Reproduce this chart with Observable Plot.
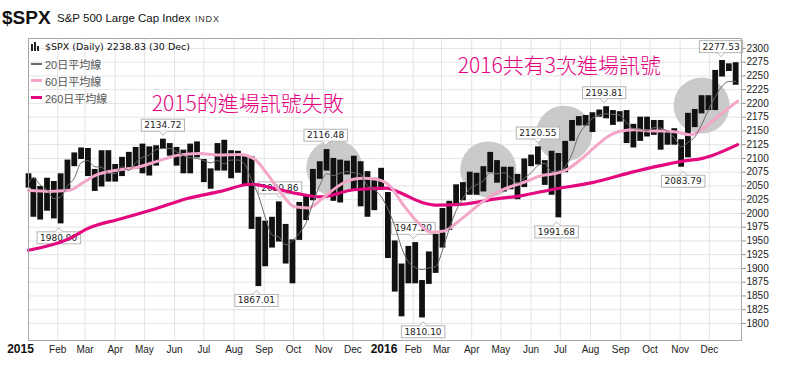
<!DOCTYPE html>
<html>
<head>
<meta charset="utf-8">
<script src="https://cdn.jsdelivr.net/npm/d3@7"></script>
<script src="https://cdn.jsdelivr.net/npm/@observablehq/plot@0.6"></script>
<style>
  html, body { margin: 0; padding: 0; background: #fff; }
  #wrap { position: relative; width: 800px; height: 368px; overflow: hidden; font-family: "Liberation Sans", Arial, sans-serif; }
  #title { height: 37px; position: relative; }
  #title .t1 { position: absolute; left: 2px; top: 7px; font: bold 19px "Liberation Sans", Arial, sans-serif; color: #111; }
  #title .t2 { position: absolute; left: 57px; top: 12px; font: 11.5px "Liberation Sans", Arial, sans-serif; color: #111; }
  #title .t3 { position: absolute; left: 195px; top: 14px; font: 9px "Liberation Sans", Arial, sans-serif; color: #333; letter-spacing: 0.8px; }
  #legend { position: absolute; left: 31px; top: 38px; }
  #legend .row { height: 17px; line-height: 17px; white-space: nowrap; display: flex; align-items: center; }
  #legend .r0 { font: 9.5px "DejaVu Sans", sans-serif; color: #111; }
  #legend .r { font: 11px "Liberation Sans", "Noto Sans CJK TC", sans-serif; color: #555; }
  #legend .sw { display: inline-block; width: 11px; margin-right: 3px; }
  #legend .icon { display: inline-block; width: 10px; height: 9px; margin-right: 4px; position: relative; }
  #legend .icon i { position: absolute; bottom: 0; width: 2px; background: #222; }
  #chart svg { display: block; }
</style>
</head>
<body>
<div id="wrap">
  <div id="title"><span class="t1">$SPX</span><span class="t2">S&amp;P 500 Large Cap Index</span><span class="t3">INDX</span></div>
  <div id="chart"></div>
  <div id="legend">
    <div class="row r0"><span class="icon"><i style="left:0;height:7px"></i><i style="left:3px;height:9px"></i><i style="left:6px;height:5px"></i></span>$SPX (Daily) 2238.83 (30 Dec)</div>
    <div class="row r"><span class="sw" style="height:2px;background:#6a6a6a"></span>20日平均線</div>
    <div class="row r"><span class="sw" style="height:3px;background:#f3a6c8"></span>60日平均線</div>
    <div class="row r"><span class="sw" style="height:3px;background:#e4087e"></span>260日平均線</div>
  </div>
</div>
<script>
// ---- weekly OHLC ranges (week mid-points) ----
const weekDates = [
  "2015-01-02","2015-01-07","2015-01-14","2015-01-21","2015-01-28","2015-02-04","2015-02-11","2015-02-18","2015-02-25",
  "2015-03-04","2015-03-11","2015-03-18","2015-03-25","2015-04-01","2015-04-08","2015-04-15","2015-04-22","2015-04-29",
  "2015-05-06","2015-05-13","2015-05-20","2015-05-27","2015-06-03","2015-06-10","2015-06-17","2015-06-24","2015-07-01",
  "2015-07-08","2015-07-15","2015-07-22","2015-07-29","2015-08-05","2015-08-12","2015-08-19","2015-08-26","2015-09-02",
  "2015-09-09","2015-09-16","2015-09-23","2015-09-30","2015-10-07","2015-10-14","2015-10-21","2015-10-28","2015-11-04",
  "2015-11-11","2015-11-18","2015-11-25","2015-12-02","2015-12-09","2015-12-16","2015-12-23","2015-12-30",
  "2016-01-06","2016-01-13","2016-01-20","2016-01-27","2016-02-03","2016-02-10","2016-02-17","2016-02-24","2016-03-02",
  "2016-03-09","2016-03-16","2016-03-23","2016-03-30","2016-04-06","2016-04-13","2016-04-20","2016-04-27","2016-05-04",
  "2016-05-11","2016-05-18","2016-05-25","2016-06-01","2016-06-08","2016-06-15","2016-06-22","2016-06-29","2016-07-06",
  "2016-07-13","2016-07-20","2016-07-27","2016-08-03","2016-08-10","2016-08-17","2016-08-24","2016-08-31","2016-09-07",
  "2016-09-14","2016-09-21","2016-09-28","2016-10-05","2016-10-12","2016-10-19","2016-10-26","2016-11-02","2016-11-09",
  "2016-11-16","2016-11-23","2016-11-30","2016-12-07","2016-12-14","2016-12-21","2016-12-28"
];
const weekHigh = [
  2072,2064,2049,2064,2058,2072,2097,2110,2119,2118,2080,2114,2114,2089,2102,2111,2120,2126,2121,2123,2135,2127,2120,2115,2126,2130,2098,
  2081,2127,2133,2114,2113,2105,2103,1993,1986,1993,2021,1980,1952,2020,2034,2080,2094,2116,2100,2097,2095,2104,2094,2076,2064,2082,
  2038,1950,1908,1940,1947,1878,1930,1962,2009,2022,2052,2056,2075,2073,2085,2111,2096,2084,2084,2071,2099,2106,2121,2096,2113,2109,
  2131,2169,2176,2178,2183,2188,2194,2187,2185,2187,2162,2175,2175,2169,2169,2149,2154,2134,2182,2189,2214,2214,2260,2278,2272,2274
];
const weekLow = [
  2046,1993,1988,2004,1990,1981,2041,2085,2098,2067,2040,2048,2057,2057,2067,2079,2080,2072,2068,2086,2117,2104,2086,2072,2072,2101,2056,
  2044,2077,2077,2063,2073,2052,1971,1867,1903,1937,1948,1908,1872,1951,1987,2023,2062,2077,2022,2019,2070,2043,2012,1993,2005,2043,
  1918,1857,1812,1872,1872,1810,1871,1891,1937,1969,2015,2023,2033,2033,2039,2074,2055,2039,2043,2025,2047,2085,2088,2051,2033,1992,
  2074,2131,2159,2159,2147,2175,2172,2160,2166,2127,2119,2131,2139,2142,2115,2124,2124,2084,2101,2156,2181,2187,2187,2248,2258,2233
];
// ---- 20-day average (weekly samples, same dates as weekDates) ----
const ma20Values = [
  2055,2065,2052,2043,2027,2030,2050,2064,2092,2096,2085,2084,2073,2072,2085,2078,2092,2102,2106,2116,2118,2118,2112,2105,2101,2100,2096,
  2092,2096,2090,2097,2097,2089,2061,2033,1993,1961,1957,1943,1950,1964,1983,2019,2051,2072,2069,2073,2076,2074,2071,2050,2043,2031,
  2008,1977,1938,1912,1902,1898,1901,1903,1933,1972,2005,2027,2045,2052,2059,2074,2072,2074,2065,2055,2064,2074,2087,2091,2076,2077,
  2085,2108,2143,2160,2173,2179,2181,2180,2179,2165,2154,2153,2150,2156,2155,2149,2138,2121,2129,2139,2161,2188,2212,2231,2240,2240
];
// ---- 60-day average ----
const ma60Dates = [
  "2015-01-02","2015-01-23","2015-02-13","2015-02-27","2015-03-13","2015-04-01","2015-04-24","2015-05-15","2015-06-05","2015-06-26",
  "2015-07-17","2015-08-07","2015-08-21","2015-09-04","2015-09-18","2015-10-02","2015-10-16","2015-10-30","2015-11-13","2015-11-27",
  "2015-12-11","2015-12-25","2016-01-08","2016-01-22","2016-02-05","2016-02-19","2016-03-04","2016-03-18","2016-04-01","2016-04-15",
  "2016-04-29","2016-05-13","2016-05-27","2016-06-10","2016-06-24","2016-07-08","2016-07-22","2016-08-05","2016-08-19","2016-09-02",
  "2016-09-16","2016-09-30","2016-10-14","2016-10-28","2016-11-11","2016-11-25","2016-12-09","2016-12-30"
];
const ma60Values = [
  2042,2040,2042,2056,2070,2078,2084,2095,2106,2109,
  2106,2107,2100,2072,2038,2012,2010,2026,2046,2060,
  2064,2062,2050,2015,1985,1966,1968,1985,2005,2025,
  2040,2050,2058,2068,2072,2080,2098,2120,2140,2150,
  2152,2150,2150,2148,2143,2155,2175,2204
];
// ---- 260-day average ----
const ma260Dates = [
  "2015-01-02","2015-02-14","2015-03-03","2015-04-06","2015-05-10","2015-06-14","2015-07-18","2015-08-18","2015-09-10","2015-10-05",
  "2015-10-29","2015-12-02","2016-01-05","2016-01-18","2016-02-10","2016-02-26","2016-03-24","2016-04-24","2016-05-21","2016-06-24",
  "2016-08-03","2016-09-15","2016-11-04","2016-11-24","2016-12-30"
];
const ma260Values = [
  1933,1955,1972,1990,2007,2027,2040,2053,2046,2036,
  2030,2043,2046,2038,2020,2015,2017,2026,2032,2044,
  2056,2076,2095,2100,2125
];
// ---- labelled highs / lows ----
const hiLabelDates = ["2015-05-20","2015-09-17","2015-11-03","2016-02-01","2016-06-08","2016-08-15","2016-12-13"];
const hiLabelValues = [2134.72, 2020.86, 2116.48, 1947.20, 2120.55, 2193.81, 2277.53];
const loLabelDates = ["2015-02-02","2015-08-24","2016-02-11","2016-06-27","2016-11-04"];
const loLabelValues = [1980.90, 1867.01, 1810.10, 1991.68, 2083.79];
// ---- highlighted zones (grey circles) ----
const circleDates = ["2015-11-12","2016-04-18","2016-07-05","2016-11-23"];
const circleValues = [2083, 2080, 2145, 2196];
// ---- annotations ----
const noteTexts = ["2015的進場訊號失敗", "2016共有3次進場訊號"];
const noteDates = ["2015-08-15", "2016-06-30"];
const noteValues = [2198, 2267];
// ---- axis ticks ----
const yTicks = [1800,1825,1850,1875,1900,1925,1950,1975,2000,2025,2050,2075,2100,2125,2150,2175,2200,2225,2250,2275,2300];
const monthLabels = ["2015-02-01","2015-03-01","2015-04-01","2015-05-01","2015-06-01","2015-07-01","2015-08-01","2015-09-01","2015-10-01",
  "2015-11-01","2015-12-01","2016-02-01","2016-03-01","2016-04-01","2016-05-01","2016-06-01","2016-07-01","2016-08-01","2016-09-01",
  "2016-10-01","2016-11-01","2016-12-01"];
const yearLabels = ["2015-01-02","2016-01-02"];

const parse = d3.utcParse("%Y-%m-%d");
const bars = weekDates.map((d, i) => ({date: parse(d), high: weekHigh[i], low: weekLow[i]}));
const ma20 = weekDates.map((d, i) => ({date: parse(d), v: ma20Values[i]}));
const ma60 = ma60Dates.map((d, i) => ({date: parse(d), v: ma60Values[i]}));
const ma260 = ma260Dates.map((d, i) => ({date: parse(d), v: ma260Values[i]}));
const hiLabels = hiLabelDates.map((d, i) => ({date: parse(d), v: hiLabelValues[i]}));
const loLabels = loLabelDates.map((d, i) => ({date: parse(d), v: loLabelValues[i]}));
const circles = circleDates.map((d, i) => ({date: parse(d), v: circleValues[i]}));
const notes = noteDates.map((d, i) => ({date: parse(d), v: noteValues[i], text: noteTexts[i]}));
const monthTicks = monthLabels.map(parse);
const yearTicks = yearLabels.map(parse);
const gridMonths = monthTicks.concat([parse("2016-01-01")]);

const chart = Plot.plot({
  width: 800,
  height: 331,
  marginLeft: 28,
  marginRight: 59,
  marginTop: 1,
  marginBottom: 28,
  x: {type: "utc", domain: [parse("2015-01-02"), parse("2017-01-03")]},
  y: {domain: [1769, 2318]},
  style: {fontFamily: "'Liberation Sans', Arial, sans-serif", fontSize: "10px", background: "transparent", color: "#222"},
  marks: [
    Plot.gridY(yTicks, {stroke: "#e4e4e4", strokeOpacity: 1}),
    Plot.gridX(gridMonths, {stroke: "#e4e4e4", strokeOpacity: 1}),
    Plot.dot(circles, {x: "date", y: "v", r: 28, fill: "#c6c6c6", fillOpacity: 0.92, stroke: null}),
    Plot.text(hiLabels, {x: "date", y: "v", text: d => d.v.toFixed(2), dy: -14, fontFamily: "'DejaVu Sans', sans-serif", fontSize: 9, fill: "#222", ariaDescription: "hilabels"}),
    Plot.text(loLabels, {x: "date", y: "v", text: d => d.v.toFixed(2), dy: 14, fontFamily: "'DejaVu Sans', sans-serif", fontSize: 9, fill: "#222", ariaDescription: "lolabels"}),
    Plot.ruleX(bars, {x: "date", y1: "low", y2: "high", stroke: "#111", strokeWidth: 5.8}),
    Plot.line(ma260, {x: "date", y: "v", stroke: "#e4087e", strokeWidth: 3.2, curve: "monotone-x"}),
    Plot.line(ma60, {x: "date", y: "v", stroke: "#f3a6c8", strokeWidth: 3, curve: "monotone-x"}),
    Plot.line(ma20, {x: "date", y: "v", stroke: "#6a6a6a", strokeWidth: 1, curve: "monotone-x"}),
    Plot.frame({stroke: "#a8a8a8"}),
    Plot.axisY(yTicks, {anchor: "right", tickSize: 4, tickPadding: 1, label: null, stroke: "#999", fill: "#222", fontSize: 10, tickFormat: d => String(d)}),
    Plot.axisX(monthTicks, {anchor: "bottom", tickSize: 0, tickPadding: 5, label: null, fill: "#222", fontSize: 10, tickFormat: d3.utcFormat("%b")}),
    Plot.axisX(yearTicks.slice(0, 1), {anchor: "bottom", tickSize: 0, tickPadding: 4, dx: -8, label: null, fill: "#111", fontSize: 12, fontWeight: "bold", tickFormat: d3.utcFormat("%Y")}),
    Plot.axisX(yearTicks.slice(1), {anchor: "bottom", tickSize: 0, tickPadding: 4, label: null, fill: "#111", fontSize: 12, fontWeight: "bold", tickFormat: d3.utcFormat("%Y")}),
    Plot.text(notes, {x: "date", y: "v", text: "text", fill: "#e4007f", fontSize: 21, fontWeight: 300, fontFamily: "'Noto Sans CJK TC', 'Noto Sans', sans-serif"})
  ]
});
document.getElementById("chart").append(chart);

// white boxes with pointers behind the value labels
const NS = "http://www.w3.org/2000/svg";
function boxify(sel, dir) {
  const g = chart.querySelector(`g[aria-description="${sel}"]`);
  if (!g) return;
  g.querySelectorAll("text").forEach(t => {
    const b = t.getBBox();
    const tr = t.getAttribute("transform") || "";
    const px = 3, py = 1;
    const rect = document.createElementNS(NS, "rect");
    rect.setAttribute("x", b.x - px);
    rect.setAttribute("y", b.y - py);
    rect.setAttribute("width", b.width + 2 * px);
    rect.setAttribute("height", b.height + 2 * py);
    rect.setAttribute("fill", "#fff");
    rect.setAttribute("stroke", "#b5b5b5");
    rect.setAttribute("transform", tr);
    g.insertBefore(rect, t);
    const cx = b.x + b.width / 2;
    const edge = dir < 0 ? b.y + b.height + py : b.y - py;
    const tip = edge - dir * 4;
    const p = document.createElementNS(NS, "path");
    p.setAttribute("d", `M${cx - 4},${edge}L${cx},${tip}L${cx + 4},${edge}`);
    p.setAttribute("fill", "#fff");
    p.setAttribute("stroke", "#b5b5b5");
    p.setAttribute("transform", tr);
    g.insertBefore(p, t);
  });
}
boxify("hilabels", -1);
boxify("lolabels", 1);
</script>
</body>
</html>
